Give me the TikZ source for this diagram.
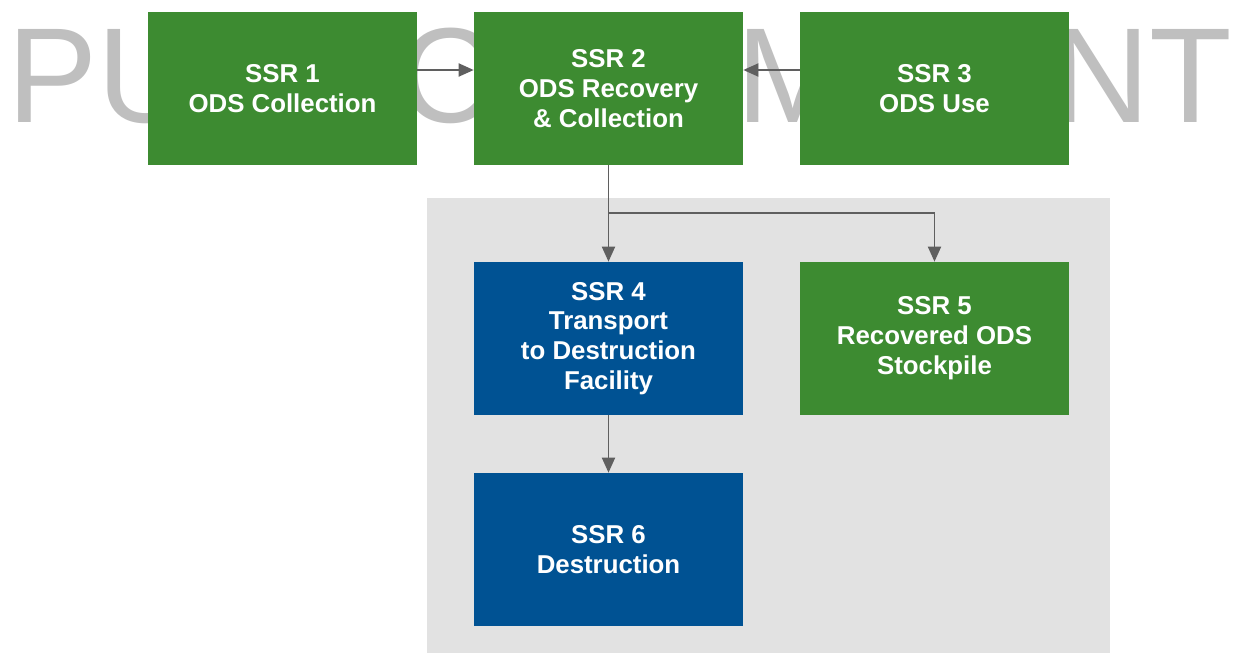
\documentclass[tikz,border=0pt]{standalone}
\usepackage{fontspec}
\setmainfont{Liberation Sans}
\usetikzlibrary{arrows.meta}

\definecolor{ssrgreen}{RGB}{61,139,49}
\definecolor{ssrblue}{RGB}{0,82,147}
\definecolor{panelgray}{RGB}{226,226,226}
\definecolor{markgray}{RGB}{191,191,191}
\definecolor{arrowgray}{RGB}{95,95,95}

\begin{document}
\begin{tikzpicture}[
    x=0.02cm, y=-0.02cm,
    % Styles
    ssrbox/.style={minimum width=5.38cm, minimum height=3.06cm, inner sep=0pt,
                   text=white, align=center,
                   font=\fontsize{14.7}{17}\selectfont\bfseries},   % process box
    onsite/.style={ssrbox, fill=ssrgreen},   % green boxes
    offsite/.style={ssrbox, fill=ssrblue},   % blue boxes
    flow/.style={draw=arrowgray, line width=1.1pt,
                 -{Triangle[length=3mm, width=2.6mm]}}   % connectors
]
  \useasboundingbox (0,0) rectangle (1241,653);

  % Watermark
  \node[anchor=base west, inner sep=0pt, text=markgray,
        font=\fontsize{77}{77}\selectfont] (mark) at (7,122) {PUBLIC COMMENT};

  % Gray panel
  \fill[panelgray] (427,198) rectangle (1110,653);

  % Top row
  \node[onsite] (ssrone)   at (282.5,88.5) {SSR 1\\ODS Collection};
  \node[onsite] (ssrtwo)   at (608.5,88.5) {SSR 2\\ODS Recovery\\\& Collection};
  \node[onsite] (ssrthree) at (934.5,88.5) {SSR 3\\ODS Use};

  % Panel boxes
  \node[offsite] (ssrfour) at (608.5,338.5) {SSR 4\\Transport\\to Destruction\\Facility};
  \node[onsite]  (ssrfive) at (934.5,338.5) {SSR 5\\Recovered ODS\\Stockpile};
  \node[offsite] (ssrsix)  at (608.5,549.5) {SSR 6\\Destruction};

  % Connectors
  \draw[flow] ([yshift=0.37cm]ssrone.east) -- ([yshift=0.37cm]ssrtwo.west);
  \draw[flow] ([yshift=0.37cm]ssrthree.west) -- ([yshift=0.37cm]ssrtwo.east);
  \draw[flow] (ssrtwo.south) -- (ssrfour.north);
  \coordinate (split) at (608.5,213);
  \draw[flow] (split) -| (ssrfive.north);
  \draw[flow] (ssrfour.south) -- (ssrsix.north);

\end{tikzpicture}
\end{document}
